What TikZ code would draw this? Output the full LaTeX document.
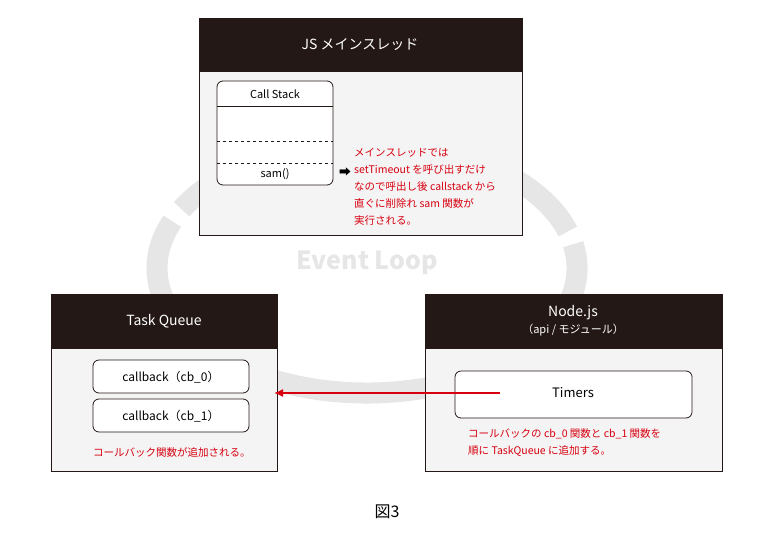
\documentclass[tikz,border=0pt]{standalone}
\usepackage{fontspec}
\setmainfont{Noto Sans CJK JP}
\usetikzlibrary{positioning, arrows.meta}
\definecolor{colorHead}{HTML}{231815}
\definecolor{colorBody}{HTML}{F4F4F4}
\definecolor{colorNote}{HTML}{D7000F}
\definecolor{colorLoop}{HTML}{E6E6E6}
\tikzset{
  panel/.style={draw=colorHead, fill=colorBody, line width=0.8pt},
  headtext/.style={text=white, font=\fontsize{14}{16}\selectfont, align=center},
  slot/.style={draw=colorHead, fill=white, rounded corners=6pt, line width=0.8pt},
  note/.style={text=colorNote, font=\fontsize{10.5}{17}\selectfont, align=left, inner sep=0pt}
}
\begin{document}
\begin{tikzpicture}[x=1pt, y=-1pt]
    \useasboundingbox (0,0) rectangle (775,532);

    % event loop ring
    \begin{scope}[colorLoop, line width=21pt]
        \draw (367,268) ++(-152:210 and 125) arc[start angle=-152, end angle=-17, x radius=210, y radius=125];
        \draw (367,268) ++(-11:210 and 125) arc[start angle=-11, end angle=202, x radius=210, y radius=125];
    \end{scope}
    \node[text=colorLoop, font=\fontsize{25}{25}\selectfont\bfseries] (loop) at (367,263) {Event Loop};

    % JS main thread
    \filldraw[panel] (199,18) rectangle (522,235);
    \fill[colorHead] (199,18) rectangle (522,72);
    \node[headtext] (mainhead) at (360,45) {JS メインスレッド};
    \draw[slot] (217,81) rectangle (333,185);
    \draw[colorHead, line width=0.8pt] (217,106) -- (333,106);
    \draw[colorHead, dashed] (217,141) -- (333,141);
    \draw[colorHead, dashed] (217,163) -- (333,163);
    \node[font=\fontsize{11}{13}\selectfont] (stackhead) at (275,94) {Call Stack};
    \node[font=\fontsize{11}{13}\selectfont] (sam) at (275,174) {sam()};
    \node[font=\fontsize{12}{12}\selectfont, inner sep=0pt] (mark) at (345,172) {➡};
    \node[note, anchor=north west] (mainnote) at (354,148) {メインスレッドでは\\setTimeout を呼び出すだけ\\なので呼出し後 callstack から\\直ぐに削除れ sam 関数が\\実行される。};

    % task queue
    \filldraw[panel] (51,294) rectangle (277,471);
    \fill[colorHead] (51,294) rectangle (277,349);
    \node[headtext] (queuehead) at (164,321) {Task Queue};
    \draw[slot] (93,360) rectangle (249,393);
    \draw[slot] (93,399) rectangle (249,432);
    \node[font=\fontsize{12}{14}\selectfont] (cb0) at (171,377) {callback（cb\_0）};
    \node[font=\fontsize{12}{14}\selectfont] (cb1) at (171,416) {callback（cb\_1）};
    \node[note, anchor=west] (queuenote) at (93,452) {コールバック関数が追加される。};

    % node.js api
    \filldraw[panel] (425,294) rectangle (722,471);
    \fill[colorHead] (425,294) rectangle (722,349);
    \node[headtext, font=\fontsize{14}{17}\selectfont] (nodehead) at (573,321) {Node.js\\{\fontsize{11}{13}\selectfont（api / モジュール）}};
    \draw[slot] (455,371) rectangle (692,418);
    \node[font=\fontsize{13}{15}\selectfont] (timers) at (573,393) {Timers};
    \node[note, anchor=north west] (nodenote) at (468,428) {コールバックの cb\_0 関数と cb\_1 関数を\\順に TaskQueue に追加する。};

    \draw[colorNote, line width=1.5pt, -{Latex[length=9pt, width=8pt]}] (500,393) -- (274,393);

    \node[font=\fontsize{16}{16}\selectfont] (caption) at (387,512) {図3};
\end{tikzpicture}
\end{document}
